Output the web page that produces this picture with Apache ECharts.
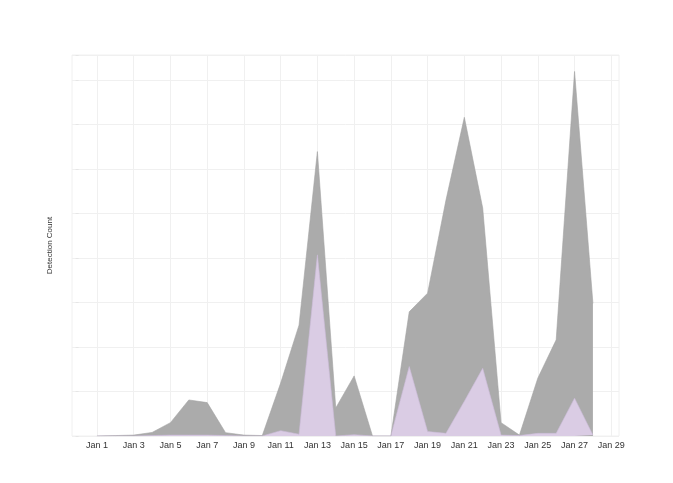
<!DOCTYPE html>
<html>
<head>
<meta charset="utf-8">
<script src="https://cdn.jsdelivr.net/npm/echarts@6/dist/echarts.min.js"></script>
<style>html,body{margin:0;padding:0;background:#fff}#c{width:673px;height:483px}</style>
</head>
<body>
<div id="c"></div>
<script>
// Day of January
const days = [1,2,3,4,5,6,7,8,9,10,11,12,13,14,15,16,17,18,19,20,21,22,23,24,25,26,27,28];
const totalDetections = [0,0.1,0.2,0.8,3.0,8.1,7.5,0.75,0.2,0.1,11.9,24.9,63.9,6.3,13.5,0,0,27.9,32.1,53,71.6,51.2,3.0,0.2,13,21.6,81.9,29.8];
const subsetDetections = [0,0,0,0.1,0.2,0.2,0.2,0.1,0,0,1.2,0.4,40.7,0,0.3,0,0,15.6,1.0,0.6,7.8,15.2,0.2,0.1,0.6,0.6,8.5,0.2];
const tickDays = [1,3,5,7,9,11,13,15,17,19,21,23,25,27,29];
const yAxisName = 'Detection Count';

const chart = echarts.init(document.getElementById('c'), null, {renderer:'canvas'});
chart.setOption({
  animation:false,
  backgroundColor:'#fff',
  grid:{left:72,right:54,top:55,bottom:47,show:true,borderColor:'#f0f0f0',borderWidth:1},
  xAxis:{
    type:'value', min:-0.36, max:29.42,
    axisLine:{show:false},
    axisTick:{show:false, customValues:tickDays},
    axisLabel:{customValues:tickDays, formatter:v=>'Jan '+v, fontSize:9, color:'#333', margin:5, fontFamily:'Liberation Sans, Arial'},
    splitLine:{show:true,lineStyle:{color:'#f0f0f0',width:1}}
  },
  yAxis:{
    type:'value', min:0, max:85.6, interval:10,
    name:yAxisName, nameLocation:'middle', nameGap:18,
    nameTextStyle:{fontSize:8, color:'#333', fontFamily:'Liberation Sans, Arial'},
    axisLine:{show:false},
    axisTick:{show:true,length:3,lineStyle:{color:'#e6e6e6'}},
    axisLabel:{show:false},
    splitLine:{show:true,lineStyle:{color:'#f0f0f0',width:1}}
  },
  series:[
    {type:'line', name:'Total', data:days.map((d,i)=>[d,totalDetections[i]]), symbol:'none',
     lineStyle:{color:'#a3a3a3',width:0.6}, areaStyle:{color:'#ababab',opacity:1}},
    {type:'line', name:'Subset', data:days.map((d,i)=>[d,subsetDetections[i]]), symbol:'none',
     lineStyle:{color:'#cdbcda',width:0.6}, areaStyle:{color:'#dacce4',opacity:1}}
  ]
});
</script>
</body>
</html>
